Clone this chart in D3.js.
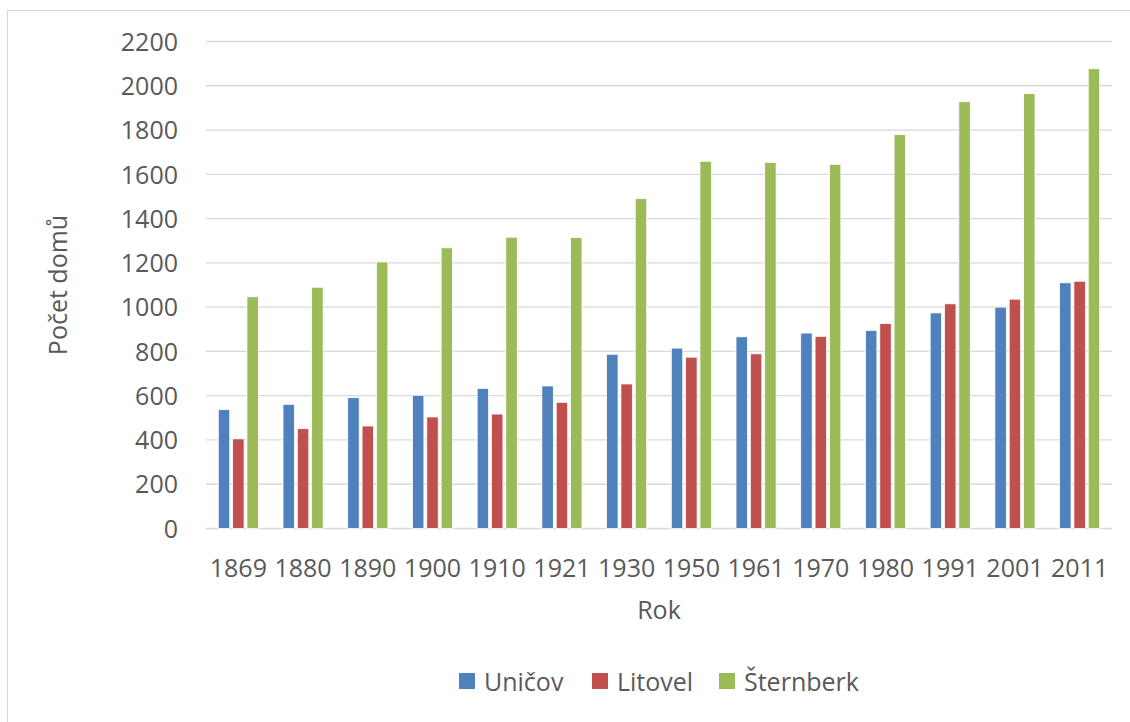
<!DOCTYPE html>
<html>
<head>
<meta charset="utf-8">
<script src="https://cdn.jsdelivr.net/npm/d3@7"></script>
<style>
  html, body { margin: 0; padding: 0; background: #fff; }
  svg { display: block; }
  text { font-family: "Open Sans", sans-serif; fill: #595959; }
</style>
</head>
<body>
<svg id="chart" width="1130" height="722"></svg>
<script>
const years = ["1869","1880","1890","1900","1910","1921","1930","1950","1961","1970","1980","1991","2001","2011"];
const seriesNames = ["Uničov", "Litovel", "Šternberk"];
const unicov   = [537, 561, 591, 602, 633, 644, 787, 815, 866, 883, 895, 974, 1000, 1110];
const litovel  = [405, 451, 463, 504, 517, 570, 653, 774, 789, 868, 926, 1015, 1036, 1117];
const sternberk= [1047, 1090, 1204, 1268, 1316, 1314, 1490, 1659, 1654, 1645, 1779, 1928, 1965, 2077];
const yTicks = [0, 200, 400, 600, 800, 1000, 1200, 1400, 1600, 1800, 2000, 2200];
const colors = ["#4f81bd", "#c0504d", "#9bbb59"];
const seriesValues = [unicov, litovel, sternberk];

const FONT = '"Open Sans", sans-serif';
const FS = 25;
const svg = d3.select("#chart");
const plotLeft = 206, plotRight = 1112, plotTop = 41.5, plotBottom = 528.5;

// outer border
svg.append("rect").attr("x", 7.5).attr("y", 10.5).attr("width", 1140).attr("height", 740)
  .attr("fill", "none").attr("stroke", "#d9d9d9").attr("stroke-width", 1);

const x0 = d3.scaleBand().domain(years).range([plotLeft, plotRight]).paddingInner(0.38).paddingOuter(0.19);
const x1 = d3.scaleBand().domain(seriesNames).range([0, x0.bandwidth()]).paddingInner(0.2);
const y = d3.scaleLinear().domain([0, 2200]).range([plotBottom, plotTop]);

// gridlines
svg.append("g").selectAll("line").data(yTicks).join("line")
  .attr("x1", plotLeft).attr("x2", plotRight)
  .attr("y1", d => y(d)).attr("y2", d => y(d))
  .attr("stroke", "#d9d9d9").attr("stroke-width", 1.3);

// y axis labels
const yAxis = d3.axisLeft(y).tickValues(yTicks).tickFormat(d3.format("d")).tickSize(0).tickPadding(0);
const gy = svg.append("g").attr("transform", `translate(178,0)`).call(yAxis)
  .attr("font-family", FONT).attr("font-size", FS);
gy.select(".domain").remove();
gy.selectAll("text").attr("fill", "#595959").attr("dy", "0.35em");

// bars
const data = [];
years.forEach((yr, i) => seriesNames.forEach((s, j) => data.push({ yr, s, v: seriesValues[j][i], c: colors[j] })));
svg.append("g").selectAll("rect").data(data).join("rect")
  .attr("x", d => x0(d.yr) + x1(d.s))
  .attr("width", x1.bandwidth())
  .attr("y", d => y(d.v))
  .attr("height", d => y(0) - y(d.v))
  .attr("fill", d => d.c)
  .attr("stroke", "#ffffff").attr("stroke-width", 0.8);

// x axis
const xAxis = d3.axisBottom(x0).tickSize(0).tickPadding(0);
const gx = svg.append("g").attr("transform", `translate(0,${plotBottom})`).call(xAxis)
  .attr("font-family", FONT).attr("font-size", FS);
gx.select(".domain").remove();
gx.selectAll("text").attr("fill", "#595959").attr("y", 48).attr("dy", 0);

// axis titles
svg.append("text").attr("x", 659).attr("y", 619).attr("text-anchor", "middle")
  .attr("font-size", FS).text("Rok");
svg.append("text").attr("transform", "translate(67,285) rotate(-90)").attr("text-anchor", "middle")
  .attr("font-size", FS).text("Počet domů");

// legend
const legendX = [459, 592, 719];
const lg = svg.append("g").selectAll("g").data(seriesNames).join("g")
  .attr("transform", (d, i) => `translate(${legendX[i]},673)`);
lg.append("rect").attr("width", 16).attr("height", 16).attr("fill", (d, i) => colors[i]);
lg.append("text").attr("x", 25).attr("y", 18).attr("font-size", FS).text(d => d);
</script>
</body>
</html>
